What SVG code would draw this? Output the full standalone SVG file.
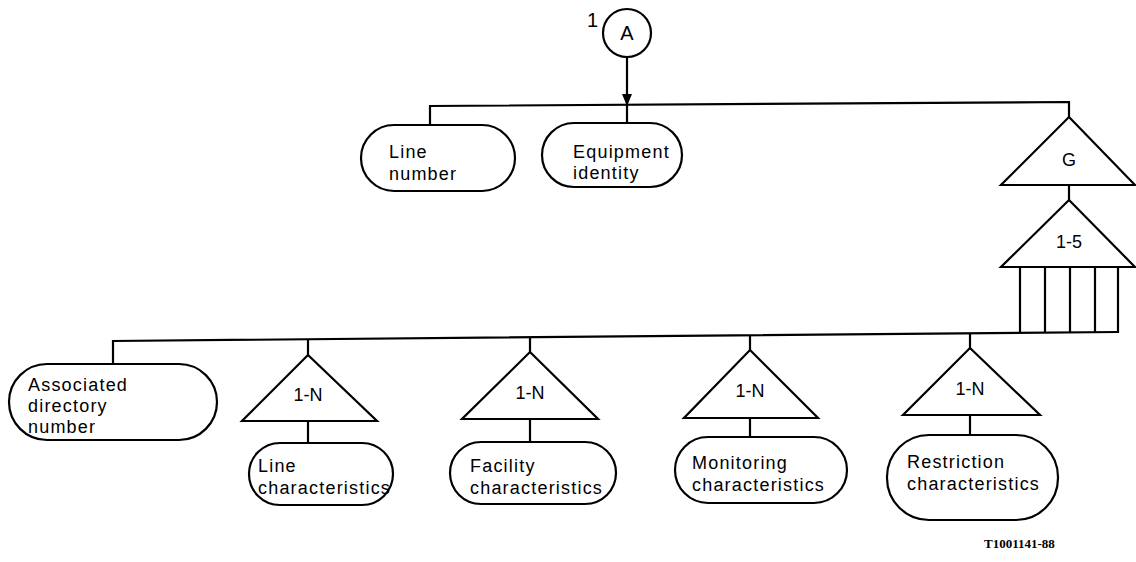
<svg xmlns="http://www.w3.org/2000/svg" width="1136" height="562" viewBox="0 0 1136 562">
<defs>
<style>
.s{fill:none;stroke:#000;stroke-width:2.2}
.n{fill:#fff;stroke:#000;stroke-width:2.2}
.t{font-family:"Liberation Sans",Arial,sans-serif;font-size:18px;letter-spacing:1.2px;fill:#000}
.c{text-anchor:middle;letter-spacing:0}
.big{font-size:20px}
.id{font-family:"Liberation Serif","Times New Roman",serif;font-size:13px;font-weight:bold;fill:#000}
</style>
<marker id="ah" markerWidth="12" markerHeight="12" refX="12" refY="6" orient="auto" markerUnits="userSpaceOnUse">
<path d="M0,1 L12,6 L0,11 Z" fill="#000"/>
</marker>
</defs>
<rect width="1136" height="562" fill="#fff"/>
<g id="connectors">
<line class="s" x1="627" y1="57" x2="627" y2="106" marker-end="url(#ah)"/>
<polyline class="s" points="430,125 430,106 1069,102 1069,117"/>
<line class="s" x1="627" y1="106" x2="627" y2="123"/>
<line class="s" x1="1069" y1="185" x2="1069" y2="200"/>
<polyline class="s" points="113,364 113,341 1118,332"/>
<line class="s" x1="308" y1="339" x2="308" y2="355"/>
<line class="s" x1="530" y1="337" x2="530" y2="352"/>
<line class="s" x1="750" y1="335" x2="750" y2="350"/>
<line class="s" x1="970" y1="333" x2="970" y2="348"/>
<line class="s" x1="308" y1="421" x2="308" y2="443"/>
<line class="s" x1="530" y1="419" x2="530" y2="442"/>
<line class="s" x1="750" y1="418" x2="750" y2="437"/>
<line class="s" x1="970" y1="415" x2="970" y2="435"/>
</g>
<g id="node-A">
<circle class="n" cx="627" cy="33" r="24"/>
<text class="t c big" x="627" y="40">A</text>
<text class="t big" x="587" y="27">1</text>
</g>
<g id="node-line-number">
<rect class="n" x="361" y="125" width="154" height="66" rx="33"/>
<text class="t" x="389" y="158">Line</text>
<text class="t" x="389" y="180">number</text>
</g>
<g id="node-equipment-identity">
<rect class="n" x="542" y="123" width="140" height="64" rx="32"/>
<text class="t" x="573" y="158">Equipment</text>
<text class="t" x="573" y="179">identity</text>
</g>
<g id="node-G">
<polygon class="n" points="1069,117 1135,185 1001,185"/>
<text class="t c" x="1069" y="166">G</text>
</g>
<g id="node-1-5">
<polygon class="n" points="1069,200 1135,267 1001,267"/>
<text class="t c" x="1069" y="248">1-5</text>
<path class="s" d="M1020,267V333M1045,267V333M1070,267V333M1095,267V333M1118,267V333"/>
</g>
<g id="node-associated">
<rect class="n" x="9" y="364" width="208" height="76" rx="38"/>
<text class="t" x="28" y="391">Associated</text>
<text class="t" x="28" y="412">directory</text>
<text class="t" x="28" y="433">number</text>
</g>
<g id="node-line-char">
<polygon class="n" points="308,355 377,421 242,421"/>
<text class="t c" x="308" y="401">1-N</text>
<rect class="n" x="249" y="443" width="144" height="62" rx="31"/>
<text class="t" x="258" y="472">Line</text>
<text class="t" x="258" y="494">characteristics</text>
</g>
<g id="node-facility-char">
<polygon class="n" points="530,352 598,419 462,419"/>
<text class="t c" x="530" y="399">1-N</text>
<rect class="n" x="450" y="442" width="166" height="62" rx="31"/>
<text class="t" x="470" y="472">Facility</text>
<text class="t" x="470" y="494">characteristics</text>
</g>
<g id="node-monitoring-char">
<polygon class="n" points="750,350 818,418 684,418"/>
<text class="t c" x="750" y="397">1-N</text>
<rect class="n" x="675" y="437" width="172" height="66" rx="33"/>
<text class="t" x="692" y="469">Monitoring</text>
<text class="t" x="692" y="491">characteristics</text>
</g>
<g id="node-restriction-char">
<polygon class="n" points="970,348 1040,415 903,415"/>
<text class="t c" x="970" y="395">1-N</text>
<rect class="n" x="887" y="435" width="171" height="85" rx="42"/>
<text class="t" x="907" y="468">Restriction</text>
<text class="t" x="907" y="490">characteristics</text>
</g>
<text class="id" x="984" y="548">T1001141-88</text>
</svg>
